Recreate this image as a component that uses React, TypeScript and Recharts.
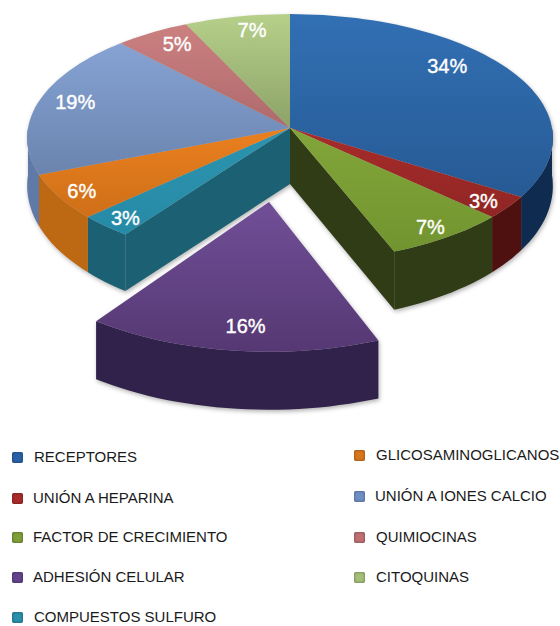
import { PieChart, Pie, Legend } from "recharts";

const categories = [
  "RECEPTORES", "UNIÓN A HEPARINA", "FACTOR DE CRECIMIENTO", "ADHESIÓN CELULAR", "COMPUESTOS SULFURO",
  "GLICOSAMINOGLICANOS", "UNIÓN A IONES CALCIO", "QUIMIOCINAS", "CITOQUINAS",
];
const values = [34, 3, 7, 16, 3, 6, 19, 5, 7];

const topLight = ["#3270b4", "#a82c2a", "#82a63a", "#714f98", "#2c94b0", "#ea801f", "#86a3d4", "#cc8080", "#b6d08a"];
const topDark = ["#265a94", "#8f2624", "#72942f", "#553873", "#268aa6", "#cf6f18", "#6a84ae", "#ae6a6c", "#8ca268"];
const wallColors = ["#0f2b50", "#4f1010", "#303c16", "#30224a", "#1b6073", "#bd6812", "#5f7aa6", "#8a5253", "#71854f"];
const legendColors = ["#2a62a6", "#a82c2a", "#7f9f38", "#63438c", "#2a90ac", "#d8761c", "#6f90c4", "#c07072", "#a4bf78"];

const explodedName = "ADHESIÓN CELULAR";

// label nudges in px, same order as categories
const labelNudge = [[-21, -16], [21, 10], [16, 13], [6, 7], [-19, 12], [-25, 8], [-13, -5], [-1, -7], [5, -8]];
const legendLeft = [457, 498, 537, 577, 617];
const legendRight = [455, 496, 537, 577];

const CX = 290;
const CY = 128;
const RX = 262;
const RY = 123;
const PERSPECTIVE = 0.08;
const EXPLODE = { dx: -21, dy: 74, sx: 1.05, sy: 1.12 };

const rad = (d: number) => (d * Math.PI) / 180;

// clockwise degrees from the top, r = 0..1
function project(theta: number, r: number, exploded: boolean) {
  const u = r * Math.sin(rad(theta));
  const v = r * Math.cos(rad(theta));
  const w = 1 + PERSPECTIVE * v;
  const x = (RX * u) / w;
  const y = (-RY * v) / w;
  if (exploded) {
    return { x: CX + EXPLODE.dx + x * EXPLODE.sx, y: CY + EXPLODE.dy + y * EXPLODE.sy, v };
  }
  return { x: CX + x, y: CY + y, v };
}

const depth = (v: number) => 47 - 12 * v;

function arcPoints(from: number, to: number, exploded: boolean) {
  const pts = [];
  const n = Math.max(2, Math.ceil(Math.abs(to - from) / 2));
  for (let i = 0; i <= n; i++) {
    pts.push(project(from + ((to - from) * i) / n, 1, exploded));
  }
  return pts;
}

const toPath = (pts: { x: number; y: number }[]) =>
  "M" + pts.map((p) => `${p.x.toFixed(1)},${p.y.toFixed(1)}`).join("L") + "Z";

function Slice3D(props: any) {
  const { startAngle, endAngle, name, payload } = props;
  const label = name ?? payload?.name;
  const i = categories.indexOf(label);
  const exploded = label === explodedName;
  const from = 90 - startAngle;
  const to = 90 - endAngle;
  const apex = project(0, 0, exploded);
  const rim = arcPoints(from, to, exploded);
  const wallDepth = (v: number) => (exploded ? 58 : depth(v));

  const parts = [];

  // outer wall, only the part facing the viewer
  const wFrom = Math.max(from, 90);
  const wTo = Math.min(to, 270);
  if (wTo > wFrom) {
    const top = arcPoints(wFrom, wTo, exploded);
    const bottom = top.map((p) => ({ x: p.x, y: p.y + wallDepth(p.v) })).reverse();
    parts.push(<path key="wall" d={toPath([...top, ...bottom])} fill={wallColors[i]} />);
  }

  // cut faces beside the gap left by the pulled out slice
  const ex = categories.indexOf(explodedName);
  if (i === ex - 1 || i === ex + 1) {
    const edge = project(i === ex - 1 ? to : from, 1, false);
    const face = [apex, edge, { x: edge.x, y: edge.y + depth(edge.v) }, { x: apex.x, y: apex.y + 56 }];
    parts.push(<path key="face" d={toPath(face)} fill={wallColors[i]} />);
  }

  parts.push(<path key="top" d={toPath([apex, ...rim])} fill={`url(#top${i})`} />);
  return <g>{parts}</g>;
}

function renderLabel(props: any) {
  const { midAngle, value, name, payload } = props;
  const label = name ?? payload?.name;
  const i = categories.indexOf(label);
  const p = project(90 - midAngle, 0.8, label === explodedName);
  return (
    <text
      x={p.x + labelNudge[i][0]}
      y={p.y + labelNudge[i][1]}
      fill="#fff"
      stroke="#fff"
      strokeWidth={0.4}
      fontSize={20}
      fontFamily="Liberation Sans"
      textAnchor="middle"
      dominantBaseline="central"
    >
      {value}%
    </text>
  );
}

function renderLegend() {
  const item = (name: string, color: string, y: number, boxX: number, textX: number) => (
    <div key={name}>
      <div
        style={{
          position: "absolute", left: boxX, top: y - 5.5, width: 11, height: 11, borderRadius: 2,
          background: color, boxShadow: "inset 0 0 3px rgba(0,0,0,.45)",
        }}
      />
      <div
        style={{
          position: "absolute", left: textX, top: y - 9, lineHeight: "18px", fontSize: 15,
          color: "#1a1a1a", fontFamily: "Liberation Sans", whiteSpace: "nowrap",
        }}
      >
        {name}
      </div>
    </div>
  );
  return (
    <div style={{ position: "absolute", left: 0, top: 0, width: 560, height: 626 }}>
      {legendLeft.map((y, i) => item(categories[i], legendColors[i], y, 12, i === 1 || i === 2 || i === 3 ? 33 : 34))}
      {legendRight.map((y, i) => item(categories[i + 5], legendColors[i + 5], y, 354, i === 1 ? 375 : 376))}
    </div>
  );
}

const tableData = categories.map((name, i) => ({ name, value: values[i], fill: legendColors[i] }));

export default function App() {
  return (
    <div style={{ position: "absolute", left: 0, top: 0, width: 560, height: 626, background: "#fff" }}>
      <style>{`.recharts-pie { filter: drop-shadow(1px 2px 2px rgba(0,0,0,.3)); }`}</style>
      <PieChart width={560} height={626} margin={{ top: 0, right: 0, bottom: 0, left: 0 }}>
        <defs>
          {categories.map((_, i) => (
            <linearGradient key={i} id={`top${i}`} x1="0" y1="0" x2="0" y2="1">
              <stop offset="0%" stopColor={topLight[i]} />
              <stop offset="100%" stopColor={topDark[i]} />
            </linearGradient>
          ))}
        </defs>
        <Pie
          data={tableData}
          dataKey="value"
          nameKey="name"
          cx={CX}
          cy={CY}
          outerRadius={RX}
          startAngle={90}
          endAngle={-270}
          stroke="none"
          isAnimationActive={false}
          shape={Slice3D}
          label={renderLabel}
          labelLine={false}
        />
        <Legend content={renderLegend} wrapperStyle={{ position: "absolute", left: 0, top: 0, width: 560, height: 626 }} />
      </PieChart>
    </div>
  );
}
